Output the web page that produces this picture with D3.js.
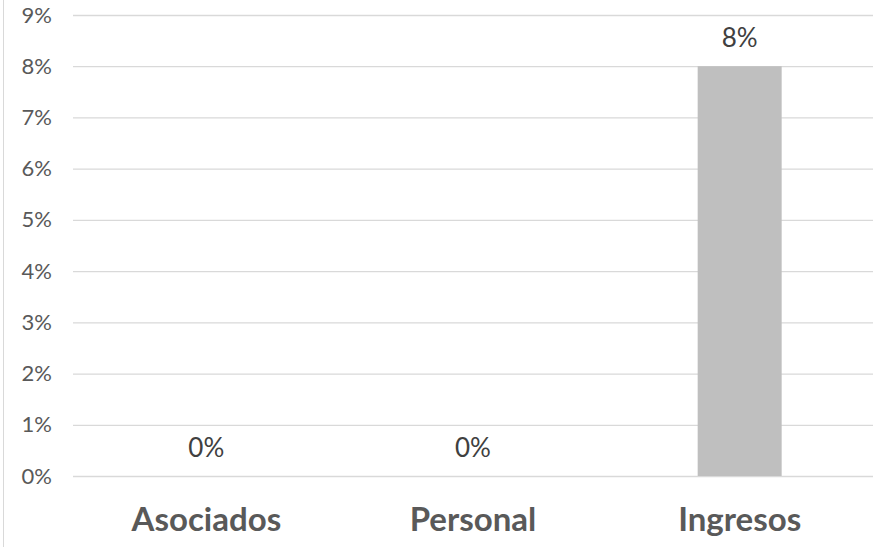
<!DOCTYPE html>
<html><head><meta charset="utf-8">
<script src="https://cdn.jsdelivr.net/npm/d3@7"></script>
<style>html,body{margin:0;padding:0;background:#fff;}</style>
</head><body>
<svg id="chart" width="887" height="547"></svg>
<script>
const categories = ["Asociados", "Personal", "Ingresos"];
const values = [0, 0, 0.08];
const tickValues = [0, 0.01, 0.02, 0.03, 0.04, 0.05, 0.06, 0.07, 0.08, 0.09];

const svg = d3.select("#chart");
const W = 887, H = 547;
const m = {left: 73, right: 14, top: 15, bottom: 71};
const x = d3.scaleBand().domain(categories).range([m.left, W - m.right]).paddingInner(0.685).paddingOuter(0.3425);
const y = d3.scaleLinear().domain([0, 0.09]).range([H - m.bottom, m.top]);
const fmt = d3.format(".0%");
const FONT = "Lato, 'Open Sans', sans-serif";

svg.append("line").attr("x1", 3.5).attr("x2", 3.5).attr("y1", 0).attr("y2", H).attr("stroke", "#d9d9d9").attr("stroke-width", 1);

const yAxis = d3.axisLeft(y).tickValues(tickValues).tickFormat(fmt).tickSize(-(W - m.left - m.right)).tickPadding(21);
const gy = svg.append("g").attr("transform", `translate(${m.left},0)`).call(yAxis);
gy.select(".domain").remove();
gy.selectAll(".tick line").attr("stroke", "#d9d9d9").attr("stroke-width", 1.3);
gy.selectAll(".tick text").attr("fill", "#595959").style("font-family", FONT).style("font-size", "22px");

svg.selectAll("rect.bar").data(values).enter().append("rect").attr("class", "bar")
  .attr("x", (d, i) => x(categories[i])).attr("width", x.bandwidth())
  .attr("y", d => y(d)).attr("height", d => y(0) - y(d)).attr("fill", "#bfbfbf");

svg.selectAll("text.lbl").data(values).enter().append("text").attr("class", "lbl")
  .attr("x", (d, i) => x(categories[i]) + x.bandwidth() / 2).attr("y", d => y(d) - 19)
  .attr("text-anchor", "middle").attr("fill", "#404040")
  .style("font-family", FONT).style("font-size", "26px").text(d => fmt(d));

const xAxis = d3.axisBottom(x).tickSize(0).tickPadding(32);
const gx = svg.append("g").attr("transform", `translate(0,${H - m.bottom})`).call(xAxis);
gx.select(".domain").remove();
gx.selectAll(".tick text").attr("fill", "#595959").style("font-family", FONT).style("font-size", "33px").style("font-weight", "bold");
</script>
</body></html>
